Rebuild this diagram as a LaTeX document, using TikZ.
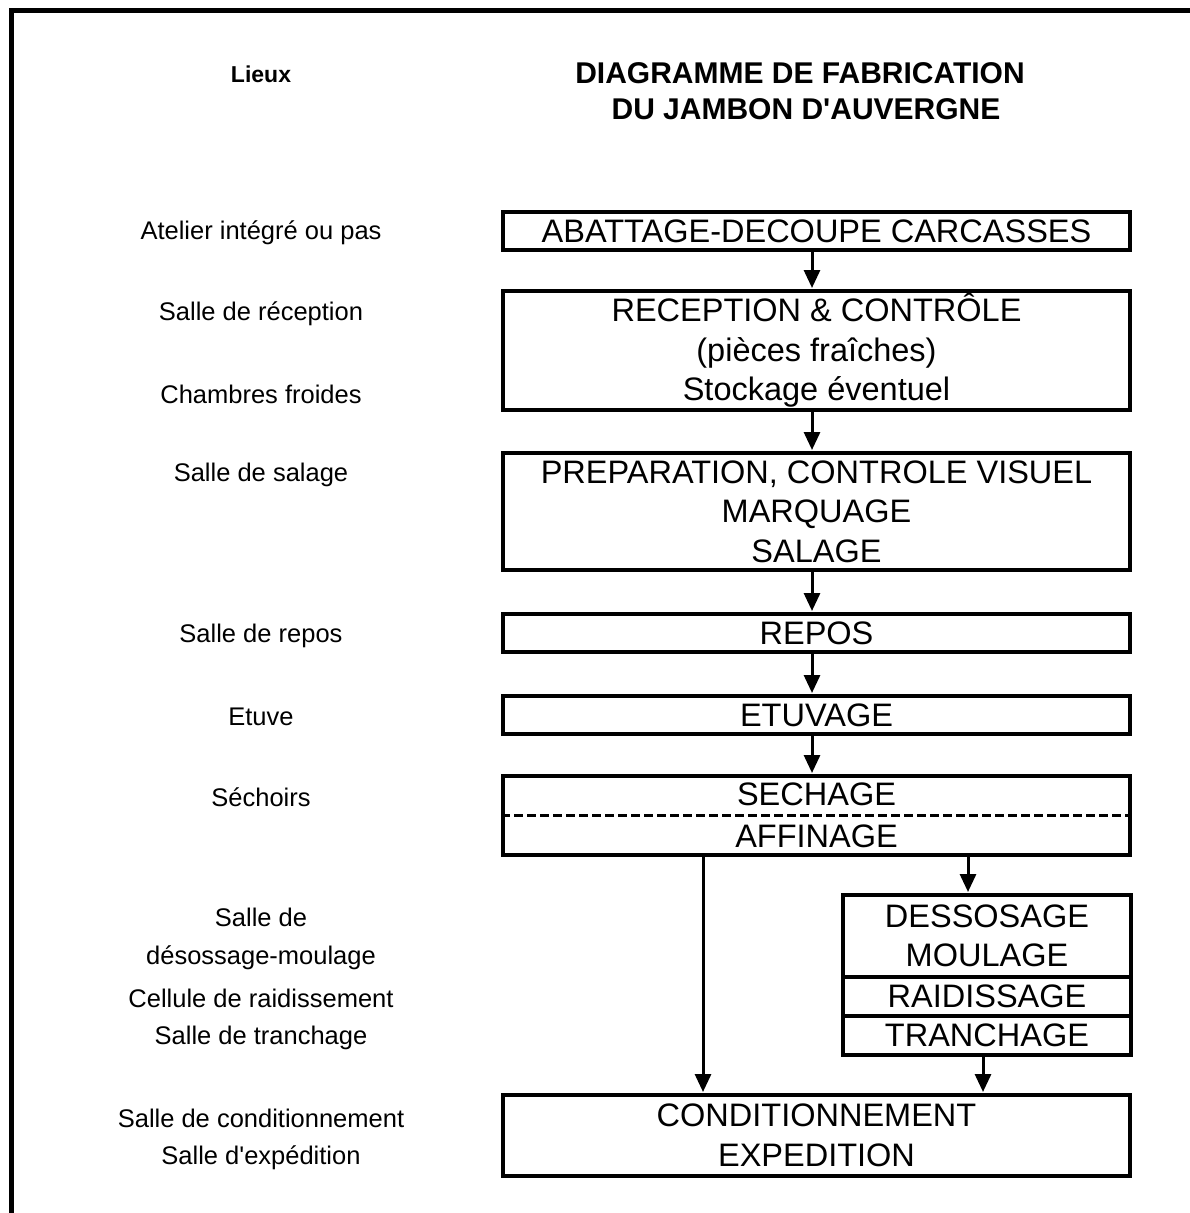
\documentclass[tikz,border=0pt]{standalone}
\usepackage{fontspec}
\setmainfont{Liberation Sans}
\usetikzlibrary{arrows.meta}
\tikzset{
  stepbox/.style={draw, line width=4pt, rectangle, inner sep=0pt, align=center,
    font=\fontsize{32.5}{39.5}\selectfont},
  lieu/.style={font=\fontsize{25.5}{30}\selectfont, anchor=center, inner sep=0pt},
  ttl/.style={font=\fontsize{30}{36}\selectfont\bfseries, anchor=center, inner sep=0pt},
  arr/.style={line width=3pt, -{Triangle[length=18pt,width=16pt]}, shorten >=1pt},
}
\begin{document}
\begin{tikzpicture}[x=1pt,y=-1pt]
\useasboundingbox (0,0) rectangle (1190,1213);
% frame
\draw[line width=5pt] (11,1213) -- (11,10.5) -- (1190,10.5);

% titles
\node[ttl, font=\fontsize{23}{28}\selectfont\bfseries] (lieux) at (261,74) {Lieux};
\node[ttl] (t1) at (800,73) {DIAGRAMME DE FABRICATION};
\node[ttl] (t2) at (806,109) {DU JAMBON D\textquotesingle AUVERGNE};

% boxes
\node[stepbox, minimum width=627pt, minimum height=38pt] (b1) at (816.5,231) {ABATTAGE-DECOUPE CARCASSES};
\node[stepbox, minimum width=627pt, minimum height=119pt] (b2) at (816.5,350.5) {RECEPTION \& CONTRÔLE\\(pièces fraîches)\\Stockage éventuel};
\node[stepbox, minimum width=627pt, minimum height=117pt] (b3) at (816.5,511.5) {PREPARATION, CONTROLE VISUEL\\MARQUAGE\\SALAGE};
\node[stepbox, minimum width=627pt, minimum height=38pt] (b4) at (816.5,633) {REPOS};
\node[stepbox, minimum width=627pt, minimum height=38pt] (b5) at (816.5,715) {ETUVAGE};
\node[stepbox, minimum width=627pt, minimum height=79pt] (b6) at (816.5,815.5) {SECHAGE\\[2pt]AFFINAGE};
\draw[line width=3.5pt, dash pattern=on 9pt off 4pt] (b6.west) -- (b6.east);
\node[stepbox, minimum width=288pt, minimum height=82pt] (b7a) at (987,936) {DESSOSAGE\\MOULAGE};
\node[stepbox, minimum width=288pt, minimum height=39pt] (b7b) at (987,996.5) {RAIDISSAGE};
\node[stepbox, minimum width=288pt, minimum height=39pt] (b7c) at (987,1035.5) {TRANCHAGE};
\node[stepbox, minimum width=627pt, minimum height=81pt] (b8) at (816.5,1135.5) {CONDITIONNEMENT\\[1pt]EXPEDITION};

% arrows
\draw[arr] ([xshift=-4.5pt]b1.south) -- ([xshift=-4.5pt]b2.north);
\draw[arr] ([xshift=-4.5pt]b2.south) -- ([xshift=-4.5pt]b3.north);
\draw[arr] ([xshift=-4.5pt]b3.south) -- ([xshift=-4.5pt]b4.north);
\draw[arr] ([xshift=-4.5pt]b4.south) -- ([xshift=-4.5pt]b5.north);
\draw[arr] ([xshift=-4.5pt]b5.south) -- ([xshift=-4.5pt]b6.north);
\draw[arr] ([xshift=-113.5pt]b6.south) -- ([xshift=-113.5pt]b8.north);
\draw[arr] ([xshift=151.5pt]b6.south) -- ([xshift=-19pt]b7a.north);
\draw[arr] ([xshift=-4pt]b7c.south) -- ([xshift=166.5pt]b8.north);

% places
\node[lieu] (l1) at (261,233) {Atelier intégré ou pas};
\node[lieu] (l2) at (261,314) {Salle de réception};
\node[lieu] (l3) at (261,394) {Chambres froides};
\node[lieu] (l4) at (261,475) {Salle de salage};
\node[lieu] (l5) at (261,636) {Salle de repos};
\node[lieu] (l6) at (261,717) {Etuve};
\node[lieu] (l7) at (261,797) {Séchoirs};
\node[lieu] (l8) at (261,917) {Salle de};
\node[lieu] (l9) at (261,958) {désossage-moulage};
\node[lieu] (l10) at (261,998) {Cellule de raidissement};
\node[lieu] (l11) at (261,1038) {Salle de tranchage};
\node[lieu] (l12) at (261,1118) {Salle de conditionnement};
\node[lieu] (l13) at (261,1158) {Salle d\textquotesingle expédition};
\end{tikzpicture}
\end{document}
